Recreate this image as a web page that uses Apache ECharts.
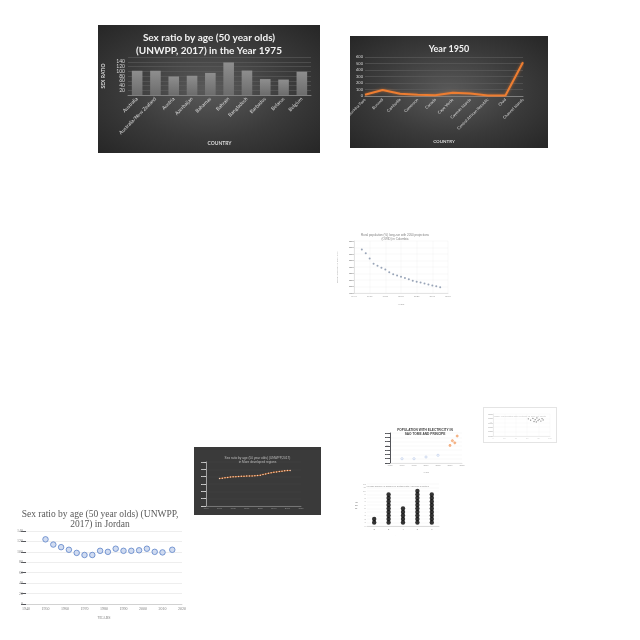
<!DOCTYPE html>
<html>
<head>
<meta charset="utf-8">
<script src="https://cdn.jsdelivr.net/npm/echarts@6/dist/echarts.min.js"></script>
<style>
  body { margin: 0; background: #fff; width: 640px; height: 640px; position: relative; overflow: hidden; }
  .c { position: absolute; }
  .dark { background: radial-gradient(ellipse at center, #5a5a5a 0%, #3a3a3a 55%, #262626 100%); }
</style>
</head>
<body>
<div id="c1" class="c dark" style="left:98px;top:25px;width:222px;height:128px"></div>
<div id="c2" class="c dark" style="left:350px;top:36px;width:198px;height:112px"></div>
<div id="c3" class="c" style="left:335px;top:222px;width:120px;height:85px"></div>
<div id="c4" class="c" style="left:10px;top:500px;width:180px;height:125px"></div>
<div id="c5" class="c" style="left:194px;top:447px;width:127px;height:68px;background:#3a3a3a"></div>
<div id="c6" class="c" style="left:380px;top:420px;width:90px;height:56px"></div>
<div id="c7" class="c" style="left:483px;top:407px;width:72px;height:34px;border:1px solid #e4e4e4"></div>
<div id="c8" class="c" style="left:355px;top:478px;width:85px;height:58px"></div>
<script>
// sex ratio 1975
const countries1975 = ['Australia', 'Australia/New Zealand', 'Austria', 'Azerbaijan', 'Bahamas', 'Bahrain', 'Bangladesh', 'Barbados', 'Belarus', 'Belgium'];
const sexRatio1975 = [102, 102, 78, 81, 93, 137, 103, 67, 65, 98];

// population density 1950
const countries1950 = ['Burkina Faso', 'Burundi', 'Cambodia', 'Cameroon', 'Canada', 'Cape Verde', 'Cayman Islands', 'Central African Republic', 'Chad', 'Channel Islands'];
const density1950 = [18, 92, 36, 20, 10, 50, 38, 8, 8, 520];

// rural population Colombia
const ruralYears = [1950, 1955, 1960, 1965, 1970, 1975, 1980, 1985, 1990, 1995, 2000, 2005, 2010, 2015, 2020, 2025, 2030, 2035, 2040, 2045, 2050];
const ruralShare = [67, 61, 53, 45, 42, 39, 36, 32, 29, 27, 25, 23, 21, 19, 17.5, 16, 14.5, 13, 11.5, 10.5, 9];

// Jordan
const jordanYears = [1950, 1954, 1958, 1962, 1966, 1970, 1974, 1978, 1982, 1986, 1990, 1994, 1998, 2002, 2006, 2010, 2015];
const jordanRatio = [124, 114, 109, 104, 98, 94, 94, 102, 100, 106, 102, 102, 103, 106, 100, 99, 104];

// more developed regions
const devYears = [1960, 1964, 1968, 1972, 1976, 1980, 1984, 1988, 1992, 1996, 2000, 2004, 2008, 2012, 2016, 2020, 2024, 2028, 2032, 2036, 2040, 2044, 2048, 2052, 2056, 2060, 2064];
const devRatio = [75, 76, 77, 78, 79, 79.5, 80, 80.5, 81, 81, 81.5, 82, 82, 82.5, 83, 84, 86, 87.5, 89, 90.5, 92, 93, 94, 95, 96, 96.5, 97];

// electricity Sao Tome
const elecEarly = [[1990, 10], [1995, 10], [2000, 14], [2005, 18]];
const elecLate = [[2010, 41], [2011, 52], [2012, 47], [2013, 63]];

// small scatter
const scatterPts = [[62, 78], [66, 72], [70, 80], [72, 66], [74, 74], [77, 82], [79, 70], [81, 76], [84, 68], [86, 79], [88, 73], [76, 64]];

// dot plot
const dotCats = ['2', '3', '4', '5', '6'];
const dotCounts = [2, 9, 5, 10, 9];

function make (id, opt) {
  // keep the grid exactly where it is put, v6 would shift it to fit labels
  opt.grid.outerBoundsMode = 'none';
  echarts.init(document.getElementById(id)).setOption(opt);
}

const lato = 'Lato';
const plain = v => String(v); // no thousands separator on years

// 1. bar chart
make('c1', {
  animation: false,
  title: {
    text: 'Sex ratio by age (50 year olds)\n(UNWPP, 2017) in the Year 1975',
    left: 'center', top: 1,
    textStyle: { color: '#f2f2f2', fontSize: 10, fontWeight: 'bold', fontFamily: lato, lineHeight: 13 }
  },
  grid: { left: 30, right: 9, top: 32, bottom: 58 },
  xAxis: {
    type: 'category', data: countries1975,
    name: 'COUNTRY', nameLocation: 'middle', nameGap: 46,
    nameTextStyle: { color: '#d9d9d9', fontSize: 5, fontWeight: 'bold', fontFamily: lato },
    axisLine: { lineStyle: { color: '#808080' } },
    axisTick: { show: false },
    axisLabel: { rotate: 45, fontSize: 5, color: '#d9d9d9', fontFamily: lato, margin: 3 }
  },
  yAxis: {
    type: 'value', min: 0, max: 160, interval: 20,
    name: 'SEX RATIO', nameLocation: 'middle', nameGap: 16,
    nameTextStyle: { color: '#d9d9d9', fontSize: 5, fontWeight: 'bold', fontFamily: lato },
    axisLabel: { fontSize: 5, color: '#d9d9d9', fontFamily: lato, margin: 3 },
    splitLine: { lineStyle: { color: '#5e5e5e', width: 0.6 } }
  },
  series: [{
    type: 'bar', data: sexRatio1975, barCategoryGap: '42%',
    itemStyle: {
      color: new echarts.graphic.LinearGradient(0, 0, 0, 1, [
        { offset: 0, color: '#8e8e8e' }, { offset: 1, color: '#6c6c6c' }
      ])
    }
  }]
});

// 2. line chart
make('c2', {
  animation: false,
  title: {
    text: 'Year 1950', left: 'center', top: 4,
    textStyle: { color: '#f2f2f2', fontSize: 9, fontWeight: 'bold', fontFamily: lato }
  },
  grid: { left: 15, right: 25, top: 21, bottom: 52 },
  xAxis: {
    type: 'category', data: countries1950, boundaryGap: false,
    name: 'COUNTRY', nameLocation: 'middle', nameGap: 43,
    nameTextStyle: { color: '#d9d9d9', fontSize: 4.5, fontWeight: 'bold', fontFamily: lato },
    axisLine: { lineStyle: { color: '#808080' } },
    axisTick: { show: false },
    axisLabel: { rotate: 45, fontSize: 4, color: '#d9d9d9', fontFamily: lato, margin: 3 }
  },
  yAxis: {
    type: 'value', min: 0, max: 600, interval: 100,
    name: 'POPULATION DENSITY', nameLocation: 'middle', nameGap: 10,
    nameTextStyle: { color: '#d9d9d9', fontSize: 4, fontWeight: 'bold', fontFamily: lato },
    axisLabel: { fontSize: 4, color: '#d9d9d9', fontFamily: lato, margin: 2 },
    splitLine: { lineStyle: { color: '#5e5e5e', width: 0.6 } }
  },
  series: [{
    type: 'line', data: density1950, symbol: 'none',
    lineStyle: { color: '#ed7d31', width: 2, shadowColor: 'rgba(237,125,49,0.6)', shadowBlur: 3 }
  }]
});

// 3. rural population scatter
make('c3', {
  animation: false,
  title: {
    text: 'Rural population (%) long-run with 2050 projections\n(OWID) in Colombia',
    left: 'center', top: 6,
    textStyle: { color: '#808080', fontSize: 3, fontWeight: 'normal', lineHeight: 4.4 }
  },
  grid: { left: 19, right: 7, top: 19, bottom: 14 },
  xAxis: {
    type: 'value', min: 1940, max: 2060, interval: 20,
    name: 'Years', nameLocation: 'middle', nameGap: 5,
    nameTextStyle: { color: '#999', fontSize: 2.5 },
    axisLine: { lineStyle: { color: '#ccc', width: 0.5 } },
    axisTick: { show: false },
    axisLabel: { fontSize: 2.5, color: '#999', margin: 2, formatter: plain },
    splitLine: { lineStyle: { color: '#eee', width: 0.4 } }
  },
  yAxis: {
    type: 'value', min: 0, max: 80, interval: 10,
    name: 'Percentage of Rural Population', nameLocation: 'middle', nameGap: 7,
    nameTextStyle: { color: '#999', fontSize: 2.3 },
    axisLine: { show: true, lineStyle: { color: '#ccc', width: 0.5 } },
    axisLabel: { fontSize: 2.5, color: '#999', margin: 2 },
    splitLine: { lineStyle: { color: '#eee', width: 0.4 } }
  },
  series: [{
    type: 'scatter', symbolSize: 2,
    data: ruralYears.map((y, i) => [y, ruralShare[i]]),
    itemStyle: { color: '#7f8fa6' }
  }]
});

// 4. Jordan
const serif = 'Liberation Serif';
make('c4', {
  animation: false,
  title: {
    text: 'Sex ratio by age (50 year olds) (UNWPP,\n2017) in Jordan',
    left: 'center', top: 4,
    textStyle: { color: '#595959', fontSize: 9.5, fontWeight: 'normal', fontFamily: serif, lineHeight: 10.5 }
  },
  grid: { left: 16, right: 8, top: 31, bottom: 21 },
  xAxis: {
    type: 'value', min: 1940, max: 2020, interval: 10,
    name: 'YEARS', nameLocation: 'middle', nameGap: 8,
    nameTextStyle: { color: '#7f7f7f', fontSize: 4, fontFamily: serif },
    axisLine: { lineStyle: { color: '#bfbfbf', width: 0.6 } },
    axisTick: { show: false },
    axisLabel: { fontSize: 4, color: '#7f7f7f', fontFamily: serif, margin: 3, formatter: plain },
    splitLine: { show: false }
  },
  yAxis: {
    type: 'value', min: 0, max: 140, interval: 20,
    name: 'SEX RATIO', nameLocation: 'middle', nameGap: 10,
    nameTextStyle: { color: '#7f7f7f', fontSize: 4, fontFamily: serif },
    axisLine: { show: false },
    axisLabel: { fontSize: 4, color: '#7f7f7f', fontFamily: serif, margin: 3 },
    splitLine: { lineStyle: { color: '#e3e3e3', width: 0.6 } }
  },
  series: [{
    type: 'scatter', symbolSize: 5.5,
    data: jordanYears.map((y, i) => [y, jordanRatio[i]]),
    itemStyle: { color: '#c5d3ee', borderColor: '#5b82c8', borderWidth: 1 }
  }]
});

// 5. more developed regions
make('c5', {
  animation: false,
  title: {
    text: 'Sex ratio by age (50 year olds) (UNWPP,2017)\nin More developed regions',
    left: 'center', top: 4,
    textStyle: { color: '#bfbfbf', fontSize: 3.2, fontWeight: 'normal', lineHeight: 3.8 }
  },
  grid: { left: 12, right: 20, top: 15, bottom: 9 },
  xAxis: {
    type: 'value', min: 1940, max: 2080, interval: 20,
    name: 'Years', nameLocation: 'middle', nameGap: 4,
    nameTextStyle: { color: '#999', fontSize: 2.3 },
    axisLine: { lineStyle: { color: '#9a9a9a', width: 0.6 } },
    axisTick: { show: false },
    axisLabel: { fontSize: 2.3, color: '#999', margin: 1.5, formatter: plain },
    splitLine: { show: false }
  },
  yAxis: {
    type: 'value', min: 0, max: 120, interval: 20,
    name: 'Sex ratio', nameLocation: 'middle', nameGap: 6,
    nameTextStyle: { color: '#999', fontSize: 2.3 },
    axisLine: { show: true, lineStyle: { color: '#d0d0d0', width: 0.7 } },
    axisLabel: { fontSize: 2.3, color: '#999', margin: 1.5 },
    splitLine: { lineStyle: { color: '#474747', width: 0.4 } }
  },
  series: [{
    type: 'line', symbol: 'circle', symbolSize: 1.5,
    data: devYears.map((y, i) => [y, devRatio[i]]),
    lineStyle: { color: '#c55a11', width: 0.8 },
    itemStyle: { color: '#f8cbad' }
  }]
});

// 6. electricity
make('c6', {
  animation: false,
  title: {
    text: 'POPULATION WITH ELECTRICITY IN\nSAO TOME AND PRINCIPE',
    left: 'center', top: 3,
    textStyle: { color: '#404040', fontSize: 3.2, fontWeight: 'bold', lineHeight: 3.8 }
  },
  grid: { left: 10, right: 8, top: 13, bottom: 13 },
  xAxis: {
    type: 'value', min: 1985, max: 2015, interval: 5,
    name: 'Years', nameLocation: 'middle', nameGap: 4,
    nameTextStyle: { color: '#999', fontSize: 2.2 },
    axisLine: { lineStyle: { color: '#ccc', width: 0.5 } },
    axisTick: { show: false },
    axisLabel: { fontSize: 2.2, color: '#999', margin: 1.5, formatter: plain },
    splitLine: { show: false }
  },
  yAxis: {
    type: 'value', min: 0, max: 70, interval: 10,
    name: 'Population with electricity', nameLocation: 'middle', nameGap: 5,
    nameTextStyle: { color: '#999', fontSize: 2 },
    axisLabel: { fontSize: 2.2, color: '#999', margin: 1.5 },
    splitLine: { lineStyle: { color: '#eee', width: 0.4 } }
  },
  series: [
    { type: 'scatter', symbolSize: 2.2, data: elecEarly, itemStyle: { color: '#fff', borderColor: '#8faadc', borderWidth: 0.5 } },
    { type: 'scatter', symbolSize: 2.2, data: elecLate, itemStyle: { color: '#f4b183', borderColor: '#ed7d31', borderWidth: 0.5 } }
  ]
});

// 7. tiny scatter
make('c7', {
  animation: false,
  title: {
    text: 'Share of population with electricity vs GDP per capita',
    left: 'center', top: 2,
    textStyle: { color: '#bbb', fontSize: 2.2, fontWeight: 'normal' }
  },
  grid: { left: 9, right: 6, top: 6, bottom: 6 },
  xAxis: {
    type: 'value', min: 0, max: 100, interval: 20,
    name: 'GDP per capita', nameLocation: 'middle', nameGap: 3,
    nameTextStyle: { color: '#ccc', fontSize: 2 },
    axisLine: { lineStyle: { color: '#ddd', width: 0.5 } },
    axisTick: { show: false },
    axisLabel: { fontSize: 2, color: '#ccc', margin: 1 },
    splitLine: { lineStyle: { color: '#f2f2f2', width: 0.4 } }
  },
  yAxis: {
    type: 'value', min: 0, max: 100, interval: 20,
    name: 'Share', nameLocation: 'middle', nameGap: 4,
    nameTextStyle: { color: '#ccc', fontSize: 2 },
    axisLine: { show: true, lineStyle: { color: '#ddd', width: 0.5 } },
    axisLabel: { fontSize: 2, color: '#ccc', margin: 1 },
    splitLine: { lineStyle: { color: '#f2f2f2', width: 0.4 } }
  },
  series: [{
    type: 'scatter', symbolSize: 1.3, data: scatterPts,
    itemStyle: { color: '#666' }
  }]
});

// 8. dot plot
const dotData = [];
dotCounts.forEach((n, i) => {
  for (let j = 1; j <= n; j++) dotData.push([dotCats[i], j]);
});
make('c8', {
  animation: false,
  title: {
    text: 'Average Number of Children in Certain Latin American Countries',
    left: 'center', top: 2,
    textStyle: { color: '#888', fontSize: 2.2, fontWeight: 'normal' }
  },
  grid: { left: 12, right: 1, top: 6, bottom: 10 },
  xAxis: {
    type: 'category', data: dotCats,
    name: 'Average Number', nameLocation: 'middle', nameGap: 5,
    nameTextStyle: { color: '#777', fontSize: 2.2 },
    axisLine: { lineStyle: { color: '#bbb', width: 0.5 } },
    axisTick: { show: false },
    axisLabel: { fontSize: 2.2, color: '#777', margin: 2 }
  },
  yAxis: {
    type: 'value', min: 0, max: 12, interval: 1,
    name: 'No. of\ncountries\n(1990)', nameLocation: 'middle', nameGap: 7, nameRotate: 0,
    nameTextStyle: { color: '#444', fontSize: 2.4, lineHeight: 3 },
    axisLabel: { fontSize: 2, color: '#999', margin: 1.5 },
    splitLine: { lineStyle: { color: '#eee', width: 0.4 } }
  },
  series: [{
    type: 'scatter', symbolSize: 4.4, data: dotData,
    itemStyle: { color: '#000' }
  }]
});
</script>
</body>
</html>
